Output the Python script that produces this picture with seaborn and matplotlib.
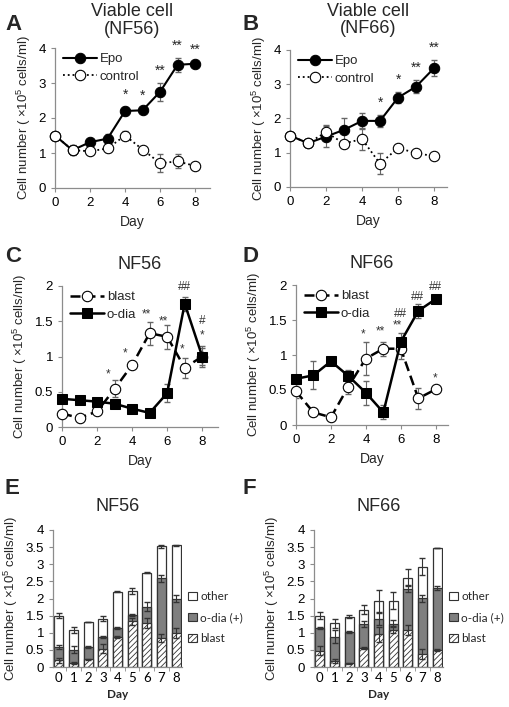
import numpy as np
import pandas as pd
import matplotlib
matplotlib.use('Agg')
import matplotlib.pyplot as plt
from matplotlib.patches import Patch
from matplotlib.ticker import FixedLocator
import seaborn as sns

sns.set_style('ticks')
plt.rcParams['font.family'] = ['Liberation Sans', 'DejaVu Sans']
plt.rcParams['mathtext.fontset'] = 'custom'
plt.rcParams['mathtext.rm'] = 'Liberation Sans'
plt.rcParams['mathtext.default'] = 'regular'
plt.rcParams['hatch.color'] = '#555555'
plt.rcParams['hatch.linewidth'] = 0.6

# --- data ---
days = list(range(9))

# A: viable cells NF56
a_epo = [1.5, 1.08, 1.31, 1.41, 2.2, 2.22, 2.75, 3.52, 3.55]
a_epo_err = [0.0, 0.14, 0.05, 0.12, 0.12, 0.06, 0.25, 0.2, 0.05]
a_ctl = [1.5, 1.08, 1.05, 1.13, 1.5, 1.1, 0.71, 0.76, 0.63]
a_ctl_err = [0.0, 0.1, 0.04, 0.1, 0.14, 0.06, 0.26, 0.2, 0.04]
a_sig = [(4, '*'), (5, '*'), (6, '**'), (7, '**'), (8, '**')]

# B: viable cells NF66
b_epo = [1.5, 1.28, 1.47, 1.67, 1.93, 1.93, 2.61, 2.93, 3.47]
b_epo_err = [0.0, 0.05, 0.3, 0.33, 0.23, 0.17, 0.17, 0.2, 0.23]
b_ctl = [1.5, 1.28, 1.6, 1.27, 1.4, 0.68, 1.14, 0.99, 0.9]
b_ctl_err = [0.0, 0.05, 0.2, 0.05, 0.33, 0.3, 0.05, 0.08, 0.04]
b_sig = [(5, '*'), (6, '*'), (7, '**'), (8, '**')]

# C: NF56 blast / o-dia
c_blast = [0.19, 0.13, 0.22, 0.54, 0.88, 1.33, 1.28, 0.84, 1.0]
c_blast_err = [0.05, 0.03, 0.04, 0.12, 0.03, 0.16, 0.17, 0.14, 0.15]
c_odia = [0.4, 0.38, 0.36, 0.33, 0.26, 0.2, 0.48, 1.75, 1.0]
c_odia_err = [0.04, 0.04, 0.03, 0.03, 0.03, 0.03, 0.13, 0.1, 0.12]
c_marks = [(2.64, 0.74, '*'), (3.6, 1.05, '*'), (4.8, 1.6, '**'), (5.8, 1.5, '**'),
           (6.85, 1.1, '*'), (6.97, 1.98, '##'), (8.0, 1.5, '#'), (8.0, 1.3, '*')]

# D: NF66 blast / o-dia
d_blast = [0.48, 0.18, 0.11, 0.55, 0.95, 1.09, 1.09, 0.38, 0.51]
d_blast_err = [0.1, 0.05, 0.02, 0.1, 0.23, 0.1, 0.15, 0.15, 0.03]
d_odia = [0.66, 0.71, 0.91, 0.7, 0.46, 0.18, 1.19, 1.63, 1.8]
d_odia_err = [0.03, 0.2, 0.02, 0.08, 0.17, 0.1, 0.12, 0.1, 0.03]
d_marks = [(3.84, 1.29, '*'), (4.82, 1.34, '**'), (5.95, 1.58, '##'), (5.8, 1.42, '**'),
           (6.94, 1.83, '##'), (8.0, 1.97, '##'), (7.94, 0.67, '*')]

# E/F: stacked composition (blast, o-dia (+), other)
e_total_err = [0.08, 0.08, 0.01, 0.07, 0.01, 0.1, 0.02, 0.05, 0.01]
e_odia_err = [0.06, 0.1, 0.02, 0.03, 0.03, 0.03, 0.13, 0.1, 0.1]
e_blast_err = [0.07, 0.03, 0.02, 0.12, 0.03, 0.1, 0.15, 0.12, 0.15]
f_total_err = [0.1, 0.13, 0.05, 0.13, 0.32, 0.25, 0.25, 0.25, 0.01]
f_odia_err = [0.02, 0.2, 0.02, 0.08, 0.18, 0.1, 0.1, 0.1, 0.05]
f_blast_err = [0.12, 0.05, 0.02, 0.03, 0.22, 0.1, 0.15, 0.15, 0.03]

ylab = 'Cell number ( $\\times$10$^5$ cells/ml)'
W, H = 510, 707
fig = plt.figure(figsize=(W / 100, H / 100), dpi=100)


def px_axes(l, t, r, b):
    return fig.add_axes([l / W, 1 - b / H, (r - l) / W, (b - t) / H])


def style(ax, ymax):
    sns.despine(ax=ax)
    for s in ['left', 'bottom']:
        ax.spines[s].set_color('#8c8c8c')
        ax.spines[s].set_linewidth(0.9)
    ax.tick_params(colors='#8c8c8c', labelcolor='black', labelsize=9.5, length=3, width=0.8)
    ax.set_ylim(0, ymax)


def line_panel(ax, s1, e1, s2, e2, lab1, lab2, kind):
    ax.errorbar(days, s1, yerr=e1, fmt='none', ecolor='#666666', elinewidth=0.8, capsize=2.5, zorder=1)
    ax.errorbar(days, s2, yerr=e2, fmt='none', ecolor='#666666', elinewidth=0.8, capsize=2.5, zorder=1)
    if kind == 'viable':
        sns.lineplot(x=days, y=s1, ax=ax, color='black', lw=1.5, marker='o', markersize=7.5,
                     markerfacecolor='black', markeredgecolor='black', label=lab1, clip_on=False, zorder=3)
        sns.lineplot(x=days, y=s2, ax=ax, color='black', lw=1.3, linestyle=':', marker='o', markersize=7.5,
                     markerfacecolor='white', markeredgecolor='black', markeredgewidth=0.8,
                     label=lab2, clip_on=False, zorder=4)
    else:
        sns.lineplot(x=days, y=s1, ax=ax, color='black', lw=1.8, linestyle=(0, (4, 2)), marker='o', markersize=7.5,
                     markerfacecolor='white', markeredgecolor='black', markeredgewidth=0.8,
                     label=lab1, clip_on=False, zorder=3)
        sns.lineplot(x=days, y=s2, ax=ax, color='black', lw=1.8, marker='s', markersize=7.5,
                     markerfacecolor='black', markeredgecolor='black', label=lab2, clip_on=False, zorder=4)
    ax.set_xticks([0, 2, 4, 6, 8])
    ax.set_xlabel('Day', fontsize=10)
    ax.set_ylabel(ylab, fontsize=9.5, labelpad=4)
    ax.legend(loc='upper left', frameon=False, fontsize=9.5, handlelength=2.6,
              handletextpad=0.2, borderaxespad=0.2, labelspacing=0.4, bbox_to_anchor=(0.0, 1.02))


# A
axA = px_axes(55, 48, 210, 188)
line_panel(axA, a_epo, a_epo_err, a_ctl, a_ctl_err, 'Epo', 'control', 'viable')
style(axA, 4)
axA.set_xlim(0, 8.85)
axA.set_yticks([0, 1, 2, 3, 4])
for d, s in a_sig:
    axA.text(d, a_epo[d] + a_epo_err[d] + 0.15, s, ha='center', va='bottom', fontsize=10)
axA.set_title('Viable cell\n(NF56)', fontsize=13, pad=10, linespacing=1.05)

# B
axB = px_axes(290, 50, 447, 187)
line_panel(axB, b_epo, b_epo_err, b_ctl, b_ctl_err, 'Epo', 'control', 'viable')
style(axB, 4)
axB.set_xlim(0, 8.72)
axB.set_yticks([0, 1, 2, 3, 4])
for d, s in b_sig:
    axB.text(d, b_epo[d] + b_epo_err[d] + 0.15, s, ha='center', va='bottom', fontsize=10)
axB.set_title('Viable cell\n(NF66)', fontsize=13, pad=12, linespacing=1.05)

# C
axC = px_axes(62, 286, 218, 427)
line_panel(axC, c_blast, c_blast_err, c_odia, c_odia_err, 'blast', 'o-dia', 'type')
style(axC, 2)
axC.set_xlim(0, 8.9)
axC.set_yticks([0, 0.5, 1, 1.5, 2])
axC.set_yticklabels(['0', '0.5', '1', '1.5', '2'])
for x, y, s in c_marks:
    axC.text(x, y, s, ha='center', va='center', fontsize=8.5, color='#333333')
axC.set_title('NF56', fontsize=13, pad=12)

# D
axD = px_axes(296, 285, 448, 425)
line_panel(axD, d_blast, d_blast_err, d_odia, d_odia_err, 'blast', 'o-dia', 'type')
style(axD, 2)
axD.set_xlim(0, 8.7)
axD.set_yticks([0, 0.5, 1, 1.5, 2])
axD.set_yticklabels(['0', '0.5', '1', '1.5', '2'])
for x, y, s in d_marks:
    axD.text(x, y, s, ha='center', va='center', fontsize=8.5, color='#333333')
axD.set_title('NF66', fontsize=13, pad=12)


def stacked(ax, blast, odia, total, eb, eo, et, title):
    top = [b + o for b, o in zip(blast, odia)]
    df = pd.DataFrame({'day': days, 'total': total, 'top': top, 'blast': blast})
    kw = dict(x='day', ax=ax, width=0.62, edgecolor='#333333', linewidth=0.9, order=days)
    sns.barplot(data=df, y='total', color='white', **kw)
    sns.barplot(data=df, y='top', color='#7f7f7f', **kw)
    sns.barplot(data=df, y='blast', color='white', hatch='//////', **kw)
    for vals, errs in [(total, et), (top, eo), (blast, eb)]:
        ax.errorbar(days, vals, yerr=errs, fmt='none', ecolor='#333333', elinewidth=0.8, capsize=2.5, zorder=5)
    style(ax, 4)
    ax.set_xlim(-0.4, 8.4)
    ax.set_yticks(np.arange(0, 4.01, 0.5))
    ax.set_yticklabels(['0', '0.5', '1', '1.5', '2', '2.5', '3', '3.5', '4'])
    ax.tick_params(axis='x', length=0, labelsize=9.5)
    ax.xaxis.set_minor_locator(FixedLocator(np.arange(-0.5, 8.6, 1)))
    ax.tick_params(axis='x', which='minor', length=3, color='#8c8c8c')
    for t in ax.get_xticklabels():
        t.set_family('Lato')
    ax.set_xlabel('Day', fontsize=8.5, fontweight='bold', family='Lato')
    ax.set_ylabel(ylab, fontsize=9.5, labelpad=4)
    ax.set_title(title, fontsize=13, pad=14)
    handles = [Patch(facecolor='white', edgecolor='#333333', lw=0.8, label='other'),
               Patch(facecolor='#7f7f7f', edgecolor='#333333', lw=0.8, label='o-dia (+)'),
               Patch(facecolor='white', edgecolor='#333333', lw=0.8, hatch='//////', label='blast')]
    ax.legend(handles=handles, loc='center left', bbox_to_anchor=(1.05, 0.36), frameon=False,
              borderaxespad=0, borderpad=0,
              handlelength=0.75, handleheight=0.75, handletextpad=0.25, labelspacing=0.85,
              prop={'family': 'Lato', 'size': 8.5})


axE = px_axes(53, 530, 182, 667)
stacked(axE, c_blast, c_odia, a_epo, e_blast_err, e_odia_err, e_total_err, 'NF56')
axF = px_axes(314, 530, 443, 667)
stacked(axF, d_blast, d_odia, b_epo, f_blast_err, f_odia_err, f_total_err, 'NF66')

for lab, x, y in [('A', 5, 30), ('B', 243, 30), ('C', 5, 262), ('D', 243, 262), ('E', 5, 494), ('F', 243, 494)]:
    fig.text(x / W, 1 - y / H, lab, fontsize=16, fontweight='bold', ha='left', va='baseline')

fig.savefig('out.png', dpi=100)
